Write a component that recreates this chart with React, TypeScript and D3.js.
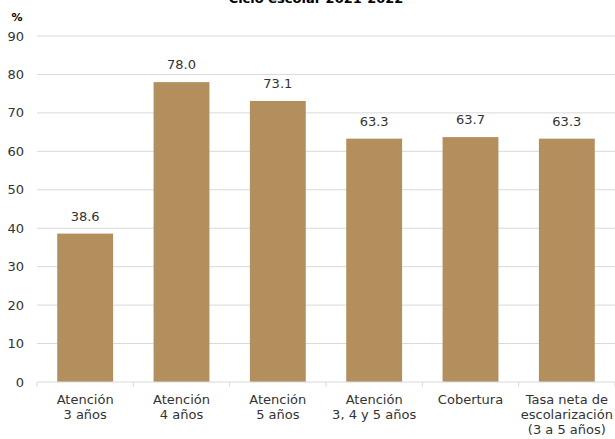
import React from "react";
import * as d3 from "d3";

const categories: string[][] = [
  ["Atención", "3 años"],
  ["Atención", "4 años"],
  ["Atención", "5 años"],
  ["Atención", "3, 4 y 5 años"],
  ["Cobertura"],
  ["Tasa neta de", "escolarización", "(3 a 5 años)"],
];
const values: number[] = [38.6, 78.0, 73.1, 63.3, 63.7, 63.3];
const yTicks: number[] = [0, 10, 20, 30, 40, 50, 60, 70, 80, 90];
const title = "Ciclo escolar 2021-2022";
const unitLabel = "%";

const W = 615;
const H = 439;
const FONT = "'DejaVu Sans', sans-serif";

export default function App() {
  const left = 37;
  const right = 615;
  const top = 36;
  const bottom = 382;
  const x = d3
    .scaleBand<number>()
    .domain(values.map((_, i) => i))
    .range([left, right])
    .paddingInner(0.42)
    .paddingOuter(0.21);
  const y = d3.scaleLinear().domain([0, 90]).range([bottom, top]);
  const step = x.step();
  const boundaries = d3.range(categories.length + 1).map((i) => left + i * step);

  return (
    <svg
      width={W}
      height={H}
      style={{ position: "absolute", left: 0, top: 0, background: "#fff" }}
      fontFamily={FONT}
    >
      <text x={316} y={3} textAnchor="middle" fontSize={13} fontWeight="bold" fill="#000">
        {title}
      </text>
      <text x={17} y={21} textAnchor="middle" fontSize={11} fontWeight="bold" fill="#000">
        {unitLabel}
      </text>
      {yTicks.map((t) => (
        <g key={t}>
          {t > 0 && (
            <line x1={left} x2={right} y1={y(t)} y2={y(t)} stroke="#d9d9d9" strokeWidth={1} />
          )}
          <text
            x={24}
            y={y(t)}
            dy="0.35em"
            textAnchor="end"
            fontSize={13}
            fill="#333"
          >
            {t}
          </text>
        </g>
      ))}
      {values.map((v, i) => (
        <g key={i}>
          <rect
            x={x(i)}
            y={y(v)}
            width={x.bandwidth()}
            height={y(0) - y(v)}
            fill="#b38f5d"
          />
          <text
            x={(x(i) as number) + x.bandwidth() / 2}
            y={y(v) - 13}
            textAnchor="middle"
            fontSize={13}
            fill="#333"
          >
            {v.toFixed(1)}
          </text>
        </g>
      ))}
      <line x1={left} x2={right} y1={bottom} y2={bottom} stroke="#d9d9d9" strokeWidth={1} />
      {boundaries.map((bx, i) => (
        <line key={i} x1={bx} x2={bx} y1={bottom} y2={bottom + 5} stroke="#d9d9d9" strokeWidth={1} />
      ))}
      {categories.map((lines, i) => (
        <text
          key={i}
          x={(x(i) as number) + x.bandwidth() / 2}
          textAnchor="middle"
          fontSize={13}
          fill="#333"
        >
          {lines.map((l, j) => (
            <tspan key={j} x={(x(i) as number) + x.bandwidth() / 2} y={404 + j * 15}>
              {l}
            </tspan>
          ))}
        </text>
      ))}
    </svg>
  );
}
